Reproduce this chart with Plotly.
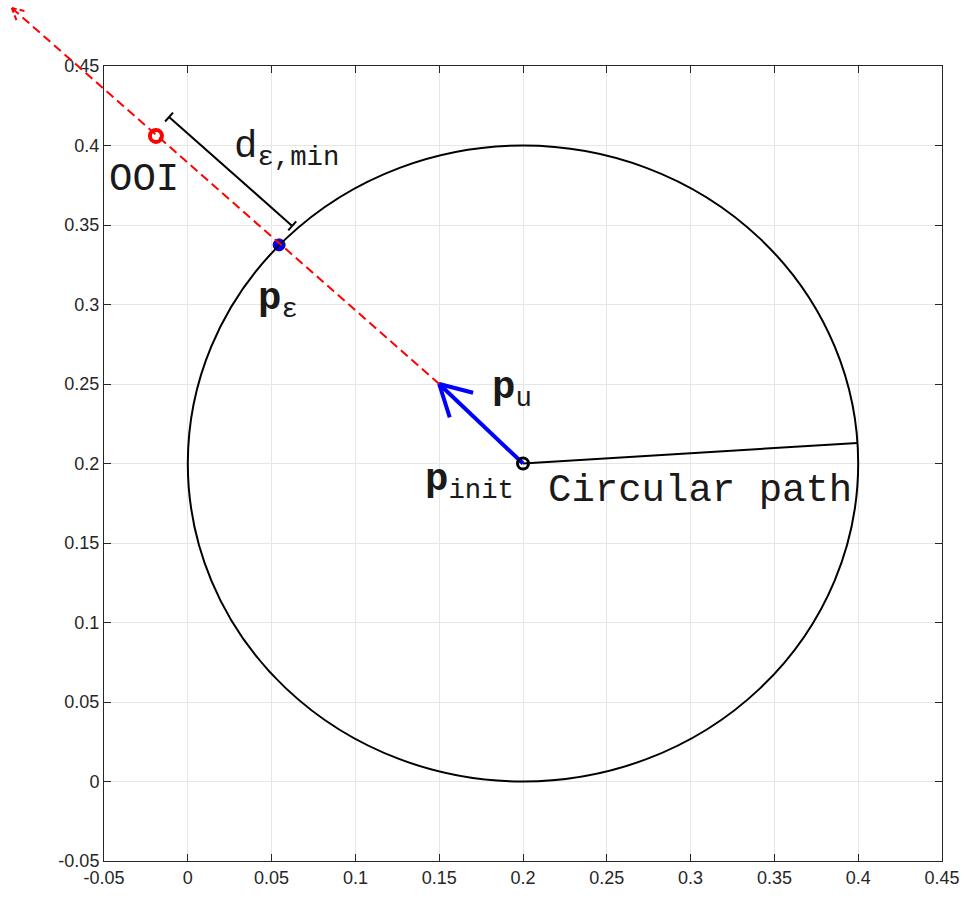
import math
import plotly.graph_objects as go

# ---- axes -------------------------------------------------------------
x_range = [-0.05, 0.45]
y_range = [-0.05, 0.45]
tick_vals = [-0.05, 0, 0.05, 0.1, 0.15, 0.2, 0.25, 0.3, 0.35, 0.4, 0.45]
tick_text = ["-0.05", "0", "0.05", "0.1", "0.15", "0.2", "0.25", "0.3", "0.35", "0.4", "0.45"]

# ---- geometry of the scene --------------------------------------------
path_center = (0.2, 0.2)
path_radius = 0.2
path_start = (0.3996, 0.2129)      # where the circular path begins

p_init = (0.2, 0.2)                # initial position
p_u = (0.15, 0.25)                 # unit direction tip
p_eps = (0.0545, 0.3375)           # point on the path closest to the OOI
ooi = (-0.019, 0.406)              # object of interest
ray_end = (-0.105, 0.4865)         # end of the dashed search ray
dim_offset = (0.0078, 0.0119)      # shift of the distance bracket off the ray

# ---- figure size / margins ---------------------------------------------
W, H = 965, 899
M = dict(l=104, r=23, t=66, b=38)
plot_w = W - M["l"] - M["r"]
plot_h = H - M["t"] - M["b"]
sx = plot_w / (x_range[1] - x_range[0])   # px per data unit
sy = plot_h / (y_range[1] - y_range[0])

MONO = "Liberation Mono, Courier New, monospace"
SANS = "Liberation Sans, Arial, Helvetica, sans-serif"
BLUE = "#0000ff"
RED = "#ff0000"
TXT = "#1a1a1a"


def to_dom(pt):
    """data -> axis-domain fraction (lets a shape leave the plot area)"""
    return ((pt[0] - x_range[0]) / (x_range[1] - x_range[0]),
            (pt[1] - y_range[0]) / (y_range[1] - y_range[0]))


def arrow_arms(tail, tip, length_px, half_angle_deg):
    """two open arrowhead arms (data coords) at `tip`, pointing back to `tail`"""
    dx = (tail[0] - tip[0]) * sx
    dy = (tail[1] - tip[1]) * sy
    base = math.atan2(dy, dx)
    arms = []
    for s in (-1, 1):
        a = base + s * math.radians(half_angle_deg)
        arms.append((tip[0] + length_px * math.cos(a) / sx,
                     tip[1] + length_px * math.sin(a) / sy))
    return arms


fig = go.Figure()
shapes = []

# circular path
shapes.append(dict(type="circle", xref="x", yref="y",
                   x0=path_center[0] - path_radius, x1=path_center[0] + path_radius,
                   y0=path_center[1] - path_radius, y1=path_center[1] + path_radius,
                   line=dict(color="black", width=2), layer="above"))

# dashed search ray (domain refs so it can run past the axes box)
rs, re_ = to_dom(p_u), to_dom(ray_end)
shapes.append(dict(type="line", xref="x domain", yref="y domain",
                   x0=rs[0], y0=rs[1], x1=re_[0], y1=re_[1],
                   line=dict(color=RED, width=2, dash="9px,5px"), layer="above"))
for arm in arrow_arms(p_u, ray_end, 13, 28):
    a = to_dom(arm)
    shapes.append(dict(type="line", xref="x domain", yref="y domain",
                       x0=re_[0], y0=re_[1], x1=a[0], y1=a[1],
                       line=dict(color=RED, width=2, dash="5px,3px"), layer="above"))

# radius line from the centre to the start of the path
fig.add_trace(go.Scatter(x=[path_center[0], path_start[0]],
                         y=[path_center[1], path_start[1]],
                         mode="lines", line=dict(color="black", width=2),
                         hoverinfo="skip", showlegend=False))

# distance bracket between OOI and p_eps
d0 = (ooi[0] + dim_offset[0], ooi[1] + dim_offset[1])
d1 = (p_eps[0] + dim_offset[0], p_eps[1] + dim_offset[1])
ux, uy = (d1[0] - d0[0]) * sx, (d1[1] - d0[1]) * sy
ln = math.hypot(ux, uy)
px_, py_ = -uy / ln * 6 / sx, ux / ln * 6 / sy     # 6 px half-length cap
bx, by = [d0[0], d1[0], None], [d0[1], d1[1], None]
for c in (d0, d1):
    bx += [c[0] - px_, c[0] + px_, None]
    by += [c[1] - py_, c[1] + py_, None]
fig.add_trace(go.Scatter(x=bx, y=by, mode="lines",
                         line=dict(color="black", width=2),
                         hoverinfo="skip", showlegend=False))

# direction arrow p_init -> p_u with open head
arms = arrow_arms(p_init, p_u, 35, 29)
fig.add_trace(go.Scatter(
    x=[p_init[0], p_u[0], None, arms[0][0], p_u[0], arms[1][0]],
    y=[p_init[1], p_u[1], None, arms[0][1], p_u[1], arms[1][1]],
    mode="lines", line=dict(color=BLUE, width=4),
    hoverinfo="skip", showlegend=False))

# markers
fig.add_trace(go.Scatter(x=[p_init[0]], y=[p_init[1]], mode="markers",
                         marker=dict(symbol="circle-open", size=11, color="black",
                                     line=dict(width=3)),
                         hoverinfo="skip", showlegend=False))
fig.add_trace(go.Scatter(x=[ooi[0]], y=[ooi[1]], mode="markers",
                         marker=dict(symbol="circle-open", size=12, color=RED,
                                     line=dict(width=4)),
                         hoverinfo="skip", showlegend=False))
fig.add_trace(go.Scatter(x=[p_eps[0]], y=[p_eps[1]], mode="markers",
                         marker=dict(symbol="circle", size=12, color=BLUE,
                                     line=dict(width=1, color="#00008b")),
                         hoverinfo="skip", showlegend=False))

# labels
labels = [
    ("OOI", -0.026, 0.378, "center"),
    ("d<sub>ε,min</sub>", 0.0265, 0.398, "left"),
    ("<b>p</b><sub>ε</sub>", 0.0405, 0.302, "left"),
    ("<b>p</b><sub>u</sub>", 0.1805, 0.2465, "left"),
    ("<b>p</b><sub>init</sub>", 0.1405, 0.1885, "left"),
    ("Circular path", 0.214, 0.183, "left"),
]
annotations = []
for txt, x, y, anchor in labels:
    annotations.append(dict(text=txt, x=x, y=y, xref="x", yref="y",
                            xanchor=anchor, yanchor="middle", showarrow=False,
                            font=dict(family=MONO, size=39, color=TXT)))

axis_common = dict(showgrid=True, gridcolor="#e6e6e6", gridwidth=1,
                   zeroline=False, showline=True, linecolor="#262626", linewidth=1,
                   mirror="ticks", ticks="inside", ticklen=7, tickcolor="#262626",
                   tickfont=dict(family=SANS, size=18, color="#262626"),
                   tickmode="array", tickvals=tick_vals, ticktext=tick_text,
                   automargin=False)

fig.update_layout(
    width=W, height=H, margin=M,
    paper_bgcolor="white", plot_bgcolor="white",
    xaxis=dict(range=x_range, **axis_common),
    yaxis=dict(range=y_range, **axis_common),
    shapes=shapes, annotations=annotations,
)

fig.write_html("out.html")
